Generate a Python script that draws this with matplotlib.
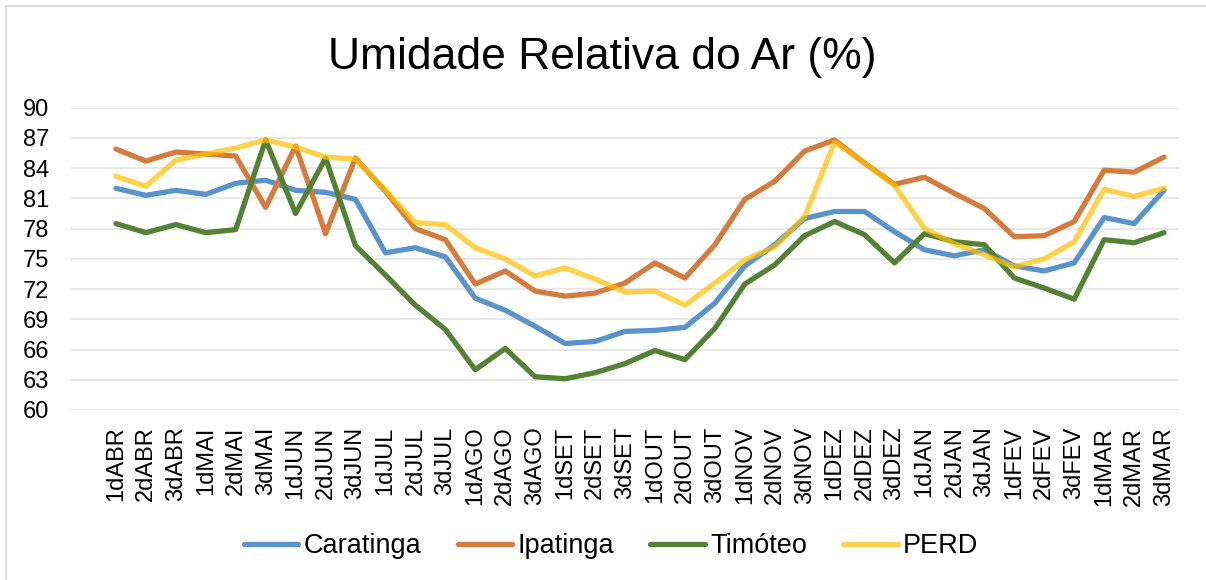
import numpy as np
import matplotlib
matplotlib.use("Agg")
import matplotlib.pyplot as plt
from matplotlib.patches import Rectangle

plt.rcParams["font.family"] = ["Liberation Sans", "DejaVu Sans"]

# decêndios de abril a março
dekads = [
    "1dABR", "2dABR", "3dABR", "1dMAI", "2dMAI", "3dMAI",
    "1dJUN", "2dJUN", "3dJUN", "1dJUL", "2dJUL", "3dJUL",
    "1dAGO", "2dAGO", "3dAGO", "1dSET", "2dSET", "3dSET",
    "1dOUT", "2dOUT", "3dOUT", "1dNOV", "2dNOV", "3dNOV",
    "1dDEZ", "2dDEZ", "3dDEZ", "1dJAN", "2dJAN", "3dJAN",
    "1dFEV", "2dFEV", "3dFEV", "1dMAR", "2dMAR", "3dMAR",
]

caratinga = [
    82.0, 81.3, 81.8, 81.4, 82.5, 82.8, 81.8, 81.6, 80.9, 75.6, 76.1, 75.2,
    71.1, 69.9, 68.3, 66.6, 66.8, 67.8, 67.9, 68.2, 70.6, 74.3, 76.4, 79.0,
    79.7, 79.7, 77.7, 75.9, 75.3, 75.9, 74.3, 73.8, 74.6, 79.1, 78.5, 81.8,
]
ipatinga = [
    85.9, 84.7, 85.6, 85.4, 85.2, 80.1, 86.2, 77.5, 85.0, 81.7, 78.0, 76.9,
    72.5, 73.8, 71.8, 71.3, 71.6, 72.6, 74.6, 73.1, 76.4, 80.9, 82.7, 85.7,
    86.8, 84.5, 82.4, 83.1, 81.5, 80.0, 77.2, 77.3, 78.7, 83.8, 83.6, 85.1,
]
timoteo = [
    78.5, 77.6, 78.4, 77.6, 77.9, 86.8, 79.5, 85.0, 76.3, 73.4, 70.4, 68.0,
    64.0, 66.1, 63.3, 63.1, 63.7, 64.6, 65.9, 65.0, 68.1, 72.5, 74.4, 77.3,
    78.7, 77.4, 74.6, 77.5, 76.7, 76.4, 73.1, 72.1, 71.0, 76.9, 76.6, 77.6,
]
perd = [
    83.2, 82.2, 84.8, 85.4, 86.0, 86.8, 86.1, 85.1, 84.9, 81.8, 78.6, 78.4,
    76.1, 75.0, 73.3, 74.1, 73.0, 71.7, 71.8, 70.4, 72.6, 74.9, 76.2, 79.2,
    86.6, 84.5, 82.3, 78.0, 76.5, 75.4, 74.2, 75.0, 76.7, 81.9, 81.2, 82.0,
]

series = [
    ("Caratinga", caratinga, "#5893cc", 1.0),
    ("Ipatinga", ipatinga, "#d67b3c", 1.0),
    ("Timóteo", timoteo, "#548235", 1.0),
    ("PERD", perd, "#ffc000", 0.71),
]

W, H = 1206, 580
fig = plt.figure(figsize=(W / 100, H / 100), dpi=100)

# moldura cinza do gráfico
fig.patches.append(Rectangle((6 / W, -0.05), 1.1, 1 - 6 / H + 0.05,
                             transform=fig.transFigure, fill=False,
                             ec="#d9d9d9", lw=1.5))

ax = fig.add_axes([71 / W, 1 - 410 / H, (1179 - 71) / W, (410 - 107.7) / H])

x = np.arange(len(dekads))
for name, vals, color, alpha in series:
    ax.plot(x, vals, color=color, alpha=alpha, lw=3.8, label=name,
            solid_capstyle="round", solid_joinstyle="round")

ax.set_xlim(-1.5, len(dekads) - 0.5)
ax.set_ylim(60, 90)
ax.set_yticks(np.arange(60, 91, 3))
ax.set_xticks(x, dekads, rotation=90)
ax.tick_params(axis="x", length=0, pad=12, labelsize=17)
ax.tick_params(axis="y", length=0, pad=15.5, labelsize=17)

ax.yaxis.grid(True, color="#e4e4e4", lw=1.2)
ax.set_axisbelow(True)
for s in ax.spines.values():
    s.set_visible(False)

fig.text(0.4995, 1 - 69 / H, "Umidade Relativa do Ar (%)", ha="center",
         va="baseline", fontsize=32)

fig.legend(loc="center", bbox_to_anchor=(611 / W, 1 - 546 / H), ncol=4,
           frameon=False, fontsize=19.5, handlelength=2.0,
           handletextpad=0.2, columnspacing=1.35)

fig.savefig("out.png", dpi=100)
